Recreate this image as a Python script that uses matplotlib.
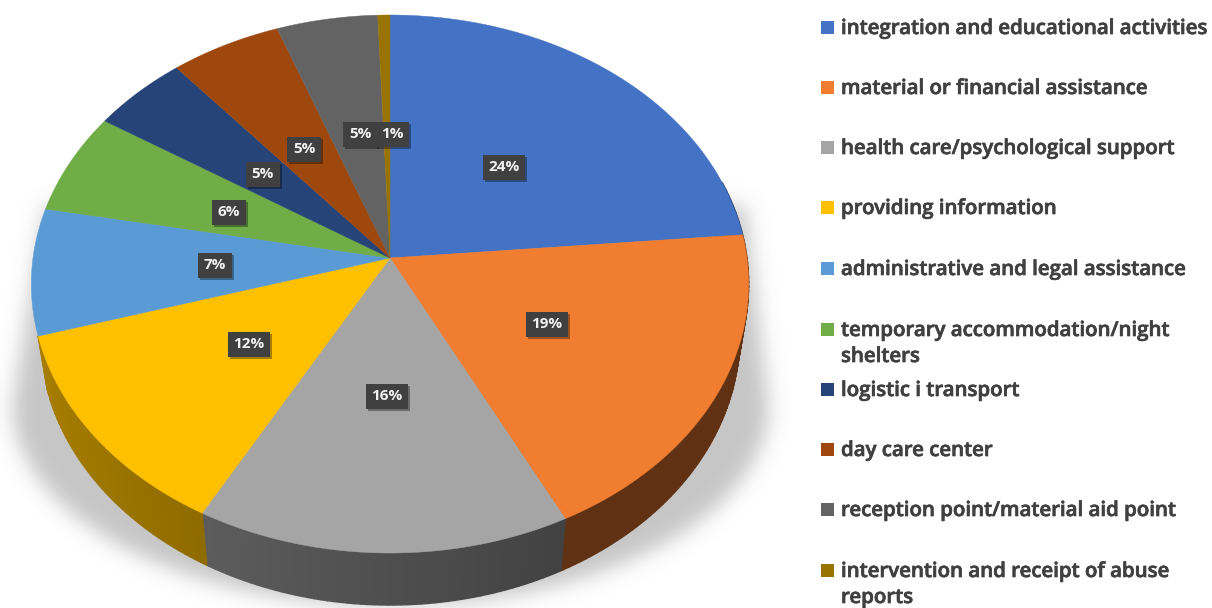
import numpy as np
import matplotlib
matplotlib.use('Agg')
import matplotlib.pyplot as plt
import matplotlib.patheffects as pe
from matplotlib.path import Path

# share of each slice as drawn, labels are the printed percentages
categories = ['integration and educational activities', 'material or financial assistance',
              'health care/psychological support', 'providing information',
              'administrative and legal assistance', 'temporary accommodation/night\nshelters',
              'logistic i transport', 'day care center', 'reception point/material aid point',
              'intervention and receipt of abuse\nreports']
values = [23.6, 19.0, 15.4, 12.4, 7.6, 6.1, 4.8, 5.5, 5.0, 0.6]
percent_labels = ['24%', '19%', '16%', '12%', '7%', '6%', '5%', '5%', '5%', '1%']
colors = ['#4472C4', '#F07D30', '#A5A5A5', '#FFC000', '#5B9BD5',
          '#70AD47', '#264478', '#9E480E', '#636363', '#997300']

# where the labels sit, in pixels
label_x = [504, 547, 387, 249, 215, 229, 263, 304, 360, 392]
label_y = [167, 324, 396, 344, 265, 212, 174, 149, 134, 134]
legend_y = [27, 87, 147, 207, 268, 329, 389, 449, 509, 570]

cx, cy = 390, 258
rx, ry, k = 357, 266.5, 0.0967
depth = 52


def rim(theta, lower=False):
    # perspective view of the pie, theta clockwise from the top
    u = np.sin(theta)
    v = np.cos(theta)
    x = rx * u / (1 + k * v)
    y = -ry * v / (1 + k * v)
    if lower:
        return cx + 0.975 * x, cy + y + depth
    return cx + x, cy + y


def blur(a, sigma):
    n = int(sigma * 3)
    g = np.exp(-np.arange(-n, n + 1) ** 2 / (2 * sigma ** 2))
    g = g / g.sum()
    a = np.apply_along_axis(lambda r: np.convolve(r, g, mode='same'), 0, a)
    a = np.apply_along_axis(lambda r: np.convolve(r, g, mode='same'), 1, a)
    return a


fig = plt.figure(figsize=(12.12, 6.08), dpi=100)
ax = fig.add_axes([0, 0, 1, 1])
ax.set_xlim(0, 1212)
ax.set_ylim(608, 0)
ax.axis('off')

# soft shadow under the pie
t = np.linspace(0, np.pi, 100)
outline = np.column_stack([390 + 378 * np.cos(t), 405 + 200 * np.sin(t)])
outline = np.vstack([[[745, 205]], outline, [[45, 205]]])
pad = 60
xx, yy = np.meshgrid(np.arange(-pad, 1212 + pad), np.arange(-pad, 608 + pad))
mask = Path(outline).contains_points(np.column_stack([xx.ravel(), yy.ravel()])).reshape(xx.shape)
mask = blur(mask.astype(float), 10)
shadow = np.ones(mask.shape + (4,))
shadow[..., :3] = 0.78
shadow[..., 3] = mask
ax.imshow(shadow, extent=(-pad, 1212 + pad, 608 + pad, -pad), interpolation='bilinear', zorder=1)
ax.set_xlim(0, 1212)
ax.set_ylim(608, 0)
ax.set_aspect('auto')

edges = np.radians(np.concatenate([[0], np.cumsum(values)]) * 3.6)

# side wall, darker towards the right
for i in range(len(values)):
    a = np.arange(edges[i], edges[i + 1], np.radians(1.0))
    a = np.append(a, edges[i + 1])
    for t0, t1 in zip(a[:-1], a[1:]):
        if np.cos(t0) > 0.3 or (np.sin(t0) < 0 and np.cos(t0) > -0.29):
            continue
        f = np.interp(np.sin(t0), [-1, -0.48, 0.45, 1], [0.66, 0.56, 0.40, 0.40])
        c = np.array(matplotlib.colors.to_rgb(colors[i])) * f
        x0, y0 = rim(t0)
        x1, y1 = rim(t1)
        x2, y2 = rim(t1, True)
        x3, y3 = rim(t0, True)
        ax.fill([x0, x1, x2, x3], [y0, y1, y2, y3], facecolor=c, edgecolor=c, lw=1.0, zorder=2)

# top face
for i in range(len(values)):
    a = np.linspace(edges[i], edges[i + 1], 80)
    x, y = rim(a)
    ax.fill(np.append(x, cx), np.append(y, cy), color=colors[i], lw=0.3, zorder=3)

# percent labels
for i in range(len(values)):
    tx = ax.text(label_x[i], label_y[i], percent_labels[i], color='#F2F2F2', fontsize=11,
                 fontweight='bold', family='Open Sans', ha='center', va='center', zorder=5,
                 bbox=dict(boxstyle='square,pad=0.36', fc='#404040', ec='none'))
    tx.get_bbox_patch().set_path_effects([
        pe.SimplePatchShadow(offset=(1.5, -1.5), shadow_rgbFace='black', alpha=0.35),
        pe.Normal()])

# legend
for i in range(len(categories)):
    ax.fill([821, 834, 834, 821], [legend_y[i] - 6.5, legend_y[i] - 6.5, legend_y[i] + 6.5, legend_y[i] + 6.5],
            color=colors[i], lw=0, zorder=3)
    ax.text(841, legend_y[i] - 8, categories[i], color='#404040', fontsize=14.7, fontweight='semibold',
            family='Open Sans', ha='left', va='top', linespacing=1.4, zorder=3,
            path_effects=[pe.withStroke(linewidth=0.5, foreground='#404040')])

fig.savefig('out.png', dpi=100)
